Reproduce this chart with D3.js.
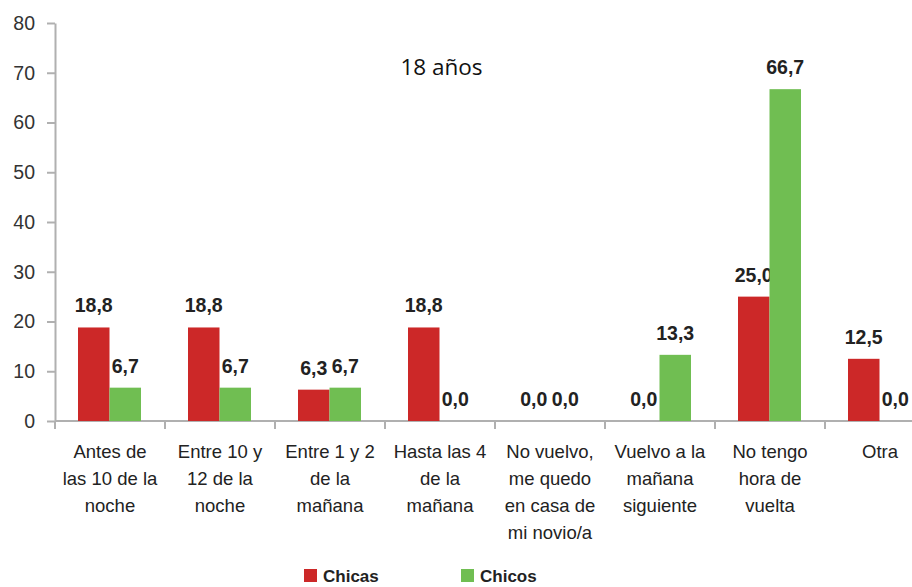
<!DOCTYPE html>
<html><head><meta charset="utf-8">
<script src="https://cdn.jsdelivr.net/npm/d3@7"></script>
<style>body{margin:0;background:#fff;overflow:hidden}svg{display:block}</style>
</head><body>
<svg id="c" width="912" height="587"></svg>
<script>
const categories = [
  ["Antes de","las 10 de la","noche"],
  ["Entre 10 y","12 de la","noche"],
  ["Entre 1 y 2","de la","mañana"],
  ["Hasta las 4","de la","mañana"],
  ["No vuelvo,","me quedo","en casa de","mi novio/a"],
  ["Vuelvo a la","mañana","siguiente"],
  ["No tengo","hora de","vuelta"],
  ["Otra"]
];
const seriesNames = ["Chicas","Chicos"];
const chicas = [18.8, 18.8, 6.3, 18.8, 0.0, 0.0, 25.0, 12.5];
const chicos = [6.7, 6.7, 6.7, 0.0, 0.0, 13.3, 66.7, 0.0];
const yTicks = [0,10,20,30,40,50,60,70,80];
const title = "18 años";
const colors = ["#cc2828", "#70be52"];

const svg = d3.select("#c");
const x0 = 55, x1 = 935, yTop = 23, yBot = 421;
const idx = d3.range(categories.length);
const x = d3.scaleBand().domain(idx).range([x0, x1]).paddingInner(0).paddingOuter(0);
const xs = d3.scaleBand().domain([0,1]).range([23, 86]);
const y = d3.scaleLinear().domain([0,80]).range([yBot, yTop]);

// y axis
const ya = svg.append("g").attr("transform",`translate(${x0},0)`)
  .call(d3.axisLeft(y).tickValues(yTicks).tickSize(8).tickSizeOuter(0).tickPadding(12));
ya.select(".domain").attr("stroke","#b0b0b0").attr("stroke-width",2);
ya.selectAll(".tick line").attr("stroke","#b0b0b0").attr("stroke-width",2);
ya.selectAll(".tick text").attr("font-family","Liberation Sans, Arial, sans-serif")
  .attr("font-size",19.5).attr("fill","#333");

// x axis
const xa = svg.append("g").attr("transform",`translate(0,${yBot})`);
xa.append("line").attr("x1",x0).attr("x2",x1).attr("stroke","#b0b0b0").attr("stroke-width",2);
xa.selectAll("line.t").data(idx).join("line").attr("class","t")
  .attr("x1",d=>x(d)).attr("x2",d=>x(d)).attr("y1",0).attr("y2",8)
  .attr("stroke","#b0b0b0").attr("stroke-width",2);

const data = [chicas, chicos];
const grp = svg.append("g");
data.forEach((vals, s) => {
  grp.selectAll(`rect.s${s}`).data(vals).join("rect").attr("class",`s${s}`)
    .attr("x",(d,i)=>x(i)+xs(s)).attr("width",xs.bandwidth())
    .attr("y",d=>y(d)).attr("height",d=>yBot-y(d)).attr("fill",colors[s]);
  grp.selectAll(`text.l${s}`).data(vals).join("text").attr("class",`l${s}`)
    .attr("x",(d,i)=>x(i)+xs(s)+xs.bandwidth()/2).attr("y",d=>y(d)-15)
    .attr("text-anchor","middle").attr("font-family","Liberation Sans, Arial, sans-serif")
    .attr("font-weight","bold").attr("font-size",19.5).attr("fill","#222")
    .text(d=>d.toFixed(1).replace(".",","));
});

// category labels
const cl = svg.append("g");
categories.forEach((lines, i) => {
  const t = cl.append("text").attr("text-anchor","middle")
    .attr("font-family","Liberation Sans, Arial, sans-serif").attr("font-size",18.5).attr("fill","#222");
  lines.forEach((ln, j) => {
    t.append("tspan").attr("x", x(i)+x.bandwidth()/2).attr("y", 458 + j*27).text(ln);
  });
});

// title
svg.append("text").attr("x",441.5).attr("y",75).attr("text-anchor","middle")
  .attr("font-family","Open Sans, Liberation Sans, sans-serif").attr("font-size",22.5).attr("fill","#111").text(title);

// legend
const legX = [304, 461];
seriesNames.forEach((n, s) => {
  svg.append("rect").attr("x",legX[s]).attr("y",569).attr("width",13).attr("height",13).attr("fill",colors[s]);
  svg.append("text").attr("x",legX[s]+19).attr("y",582).attr("font-family","Liberation Sans, Arial, sans-serif")
    .attr("font-weight","bold").attr("font-size",17).attr("fill","#222").text(n);
});
</script>
</body></html>
